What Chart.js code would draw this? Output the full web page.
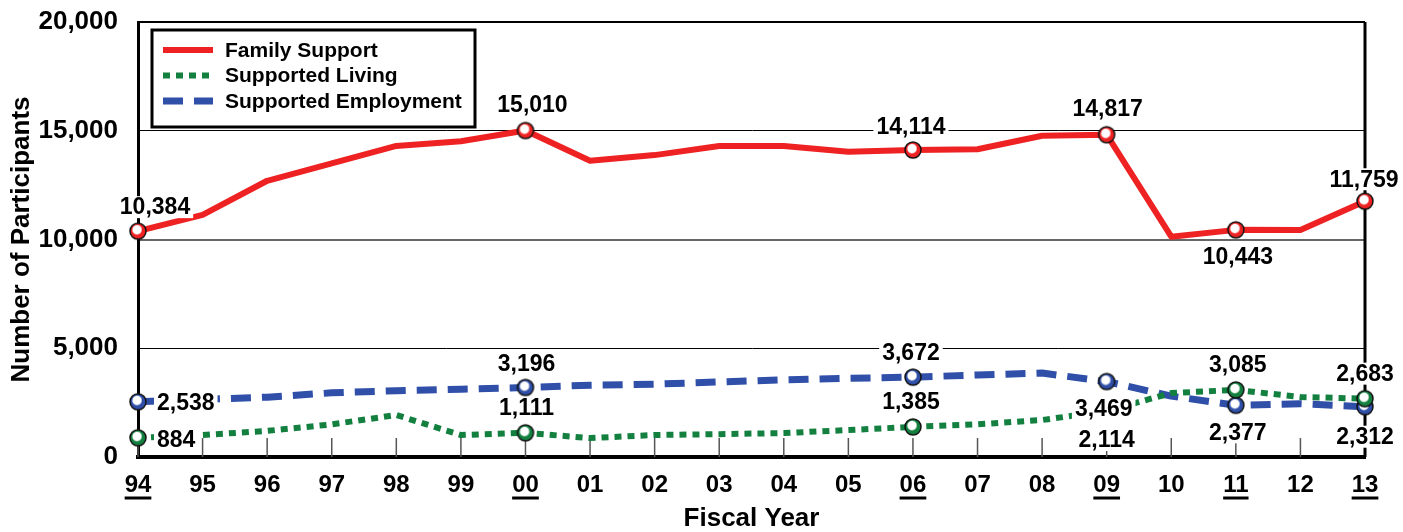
<!DOCTYPE html>
<html>
<head>
<meta charset="utf-8">
<script src="https://cdn.jsdelivr.net/npm/chart.js@4.4.0/dist/chart.umd.min.js"></script>
<style>
  html, body { margin: 0; padding: 0; background: #fff; }
  #wrap { width: 1403px; height: 532px; }
</style>
</head>
<body>
<div id="wrap"><canvas id="chart" width="1403" height="532"></canvas></div>
<script>
// Fiscal years on the x axis
const years = ['94','95','96','97','98','99','00','01','02','03','04','05','06','07','08','09','10','11','12','13']

// Number of participants per program
const familySupport = [10384, 11130, 12700, 13500, 14300, 14520, 15010, 13620, 13880, 14300, 14300, 14030, 14114, 14150, 14770, 14817, 10130, 10443, 10440, 11759]
const supportedLiving = [884, 1010, 1200, 1500, 1930, 1010, 1111, 870, 1010, 1050, 1100, 1240, 1385, 1500, 1700, 2114, 2940, 3085, 2760, 2683]
const supportedEmployment = [2538, 2650, 2750, 2950, 3050, 3120, 3196, 3300, 3350, 3450, 3550, 3620, 3672, 3770, 3860, 3469, 2800, 2377, 2450, 2312]

const yTicks = [0, 5000, 10000, 15000, 20000]

// years that are underlined and get markers
const keyYears = ['94', '00', '06', '09', '11', '13']

const FONT = "'Liberation Sans', Arial, Helvetica, sans-serif"
const RED = '#ee2222', GREEN = '#138040', BLUE = '#2f4fa8'

// glossy marker like the original
function makeMarker(color) {
  const c = document.createElement('canvas')
  c.width = 20; c.height = 20
  const g = c.getContext('2d')
  g.beginPath(); g.arc(10, 10, 8, 0, Math.PI * 2)
  g.fillStyle = color; g.fill()
  g.lineWidth = 1.5; g.strokeStyle = '#111'; g.stroke()
  const grad = g.createRadialGradient(9, 8.5, 0.5, 9, 8.5, 5.5)
  grad.addColorStop(0, '#ffffff')
  grad.addColorStop(0.7, '#ffffff')
  grad.addColorStop(1, 'rgba(255,255,255,0)')
  g.beginPath(); g.arc(9.5, 9, 5.5, 0, Math.PI * 2)
  g.fillStyle = grad; g.fill()
  return c
}

function radii(skip) {
  return years.map((y, i) => keyYears.includes(y) && !(skip || []).includes(y) ? 8 : 0)
}

// where each value label sits, relative to its point
const labelSpots = [
  { ds: 0, i: 0, dx: 17, dy: -24 },
  { ds: 0, i: 6, dx: 7, dy: -26 },
  { ds: 0, i: 12, dx: -2, dy: -23 },
  { ds: 0, i: 15, dx: 1, dy: -26 },
  { ds: 0, i: 17, dx: 2, dy: 27 },
  { ds: 0, i: 19, dx: -1, dy: -22 },
  { ds: 2, i: 0, dx: 19, dy: 1, align: 'left' },
  { ds: 1, i: 0, dx: 19, dy: 2, align: 'left' },
  { ds: 2, i: 6, dx: 1, dy: -24 },
  { ds: 1, i: 6, dx: 1, dy: -25 },
  { ds: 2, i: 12, dx: -2, dy: -24 },
  { ds: 1, i: 12, dx: -2, dy: -25 },
  { ds: 2, i: 15, dx: -3, dy: 27 },
  { ds: 1, i: 15, dx: 0, dy: 29 },
  { ds: 1, i: 17, dx: 2, dy: -25 },
  { ds: 2, i: 17, dx: 2, dy: 27 },
  { ds: 1, i: 19, dx: 0, dy: -25 },
  { ds: 2, i: 19, dx: 0, dy: 30 }
]

const framePlugin = {
  id: 'frame',
  beforeDatasetsDraw(chart) {
    const { ctx, chartArea: a, scales: { x } } = chart
    ctx.save()
    // small tick marks standing on the x axis
    ctx.strokeStyle = '#555'
    ctx.lineWidth = 1.5
    years.forEach((y, i) => {
      const px = x.getPixelForValue(i)
      ctx.beginPath(); ctx.moveTo(px, a.bottom); ctx.lineTo(px, a.bottom - 19); ctx.stroke()
    })
    // right border
    ctx.strokeStyle = '#000'
    ctx.lineWidth = 3
    ctx.beginPath(); ctx.moveTo(a.right, a.top); ctx.lineTo(a.right, a.bottom); ctx.stroke()
    ctx.restore()
  },
  afterDraw(chart) {
    const { ctx, chartArea: a, scales: { x } } = chart
    ctx.save()
    // value labels
    ctx.font = 'bold 23px ' + FONT
    ctx.textBaseline = 'middle'
    labelSpots.forEach(s => {
      const pt = chart.getDatasetMeta(s.ds).data[s.i]
      const txt = chart.data.datasets[s.ds].data[s.i].toLocaleString('en-US')
      const w = ctx.measureText(txt).width
      const align = s.align || 'center'
      const cx = pt.x + s.dx, cy = pt.y + s.dy
      const left = align === 'left' ? cx : cx - w / 2
      ctx.fillStyle = '#fff'
      ctx.fillRect(left - 3, cy - 11, w + 6, 22)
      ctx.fillStyle = '#000'
      ctx.textAlign = align
      ctx.fillText(txt, cx, cy + 1)
    })
    // underline key years
    ctx.font = 'bold 24px ' + FONT
    ctx.strokeStyle = '#000'
    ctx.lineWidth = 3
    years.forEach((y, i) => {
      if (!keyYears.includes(y)) return
      const px = x.getPixelForValue(i)
      const w = ctx.measureText(y).width
      ctx.beginPath(); ctx.moveTo(px - w / 2, 498); ctx.lineTo(px + w / 2, 498); ctx.stroke()
    })
    // legend box
    const bx = 152, by = 30, bw = 323, bh = 97
    ctx.fillStyle = '#fff'
    ctx.fillRect(bx, by, bw, bh)
    ctx.strokeStyle = '#000'
    ctx.lineWidth = 3
    ctx.strokeRect(bx, by, bw, bh)
    ctx.font = 'bold 21px ' + FONT
    ctx.textAlign = 'left'
    ctx.textBaseline = 'middle'
    chart.data.datasets.forEach((d, k) => {
      const ly = 50 + k * 25.5
      ctx.strokeStyle = d.borderColor
      ctx.lineWidth = d.borderWidth
      ctx.setLineDash(d.borderDash || [])
      ctx.beginPath(); ctx.moveTo(163, ly); ctx.lineTo(213, ly); ctx.stroke()
      ctx.setLineDash([])
      ctx.fillStyle = '#000'
      ctx.fillText(d.label, 225, ly + 1)
    })
    ctx.restore()
  }
}

new Chart(document.getElementById('chart'), {
  type: 'line',
  data: {
    labels: years,
    datasets: [
      {
        label: 'Family Support',
        data: familySupport,
        borderColor: RED,
        borderWidth: 6,
        pointStyle: makeMarker(RED),
        pointRadius: radii()
      },
      {
        label: 'Supported Living',
        data: supportedLiving,
        borderColor: GREEN,
        borderWidth: 6,
        borderDash: [7, 6],
        pointStyle: makeMarker(GREEN),
        pointRadius: radii(['09'])
      },
      {
        label: 'Supported Employment',
        data: supportedEmployment,
        borderColor: BLUE,
        borderWidth: 7,
        borderDash: [20, 11],
        pointStyle: makeMarker(BLUE),
        pointRadius: radii()
      }
    ]
  },
  options: {
    responsive: false,
    animation: false,
    clip: false,
    layout: { padding: { top: 22, right: 38, left: 0, bottom: 0 } },
    elements: { line: { tension: 0, borderCapStyle: 'butt', borderJoinStyle: 'round' } },
    plugins: { legend: { display: false }, tooltip: { enabled: false } },
    scales: {
      x: {
        offset: false,
        afterFit: s => { s.height = 75; s.paddingLeft = 0; s.paddingRight = 0 },
        grid: { display: false, drawTicks: false },
        border: { display: true, color: '#000', width: 4 },
        ticks: { color: '#000', padding: 14, maxRotation: 0, autoSkip: false, font: { family: FONT, size: 24, weight: 'bold' } },
        title: { display: true, text: 'Fiscal Year', color: '#000', padding: { top: 0, bottom: -2 }, font: { family: FONT, size: 26, weight: 'bold' } }
      },
      y: {
        min: 0,
        max: 20000,
        afterFit: s => { s.width = 138; s.paddingTop = 0; s.paddingBottom = 0 },
        afterBuildTicks: s => { s.ticks = yTicks.map(v => ({ value: v })) },
        grid: {
          drawTicks: false,
          color: c => c.tick.value === 0 ? 'rgba(0,0,0,0)' : (c.tick.value === 10000 ? '#666' : '#000'),
          lineWidth: c => c.tick.value === 20000 ? 2 : (c.tick.value === 10000 ? 2 : 1)
        },
        border: { display: true, color: '#000', width: 3 },
        ticks: {
          color: '#000',
          padding: 20,
          font: { family: FONT, size: 26, weight: 'bold' },
          callback: v => v.toLocaleString('en-US')
        },
        title: { display: true, text: 'Number of Participants', color: '#000', padding: { top: 6, bottom: 0 }, font: { family: FONT, size: 26, weight: 'bold' } }
      }
    }
  },
  plugins: [framePlugin]
})
</script>
</body>
</html>
